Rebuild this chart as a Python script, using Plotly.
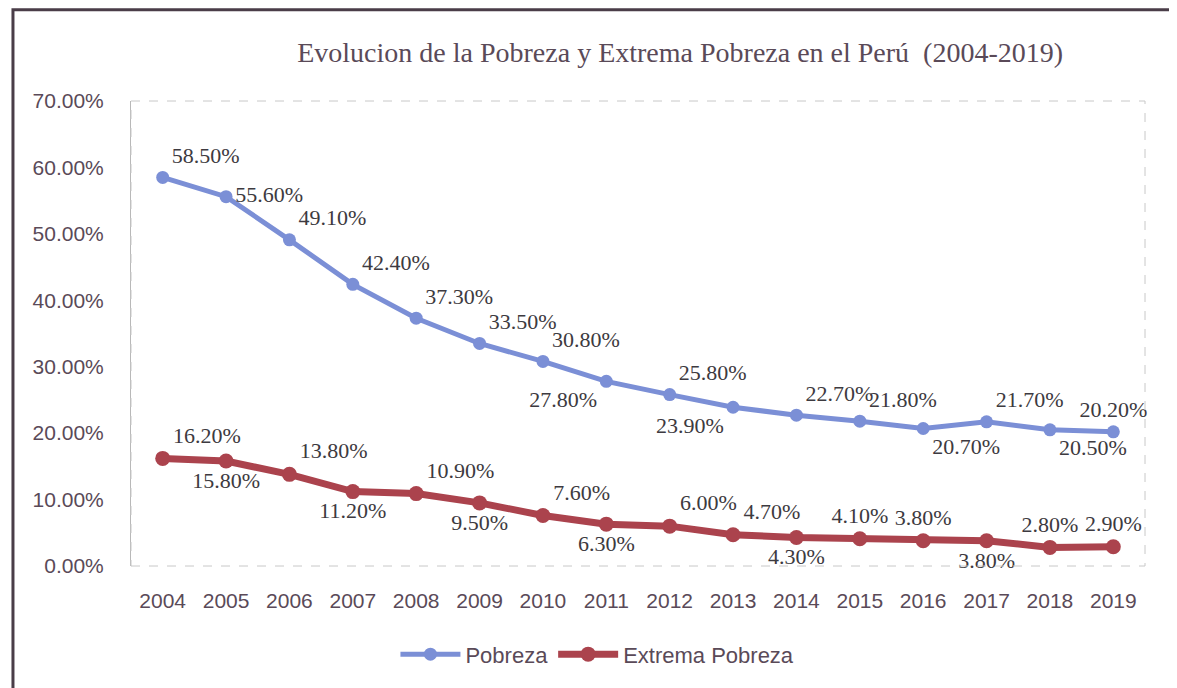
import plotly.graph_objects as go

years = [str(y) for y in range(2004, 2020)]
pobreza = [58.5, 55.6, 49.1, 42.4, 37.3, 33.5, 30.8, 27.8, 25.8, 23.9,
           22.7, 21.8, 20.7, 21.7, 20.5, 20.2]
extrema = [16.2, 15.8, 13.8, 11.2, 10.9, 9.5, 7.6, 6.3, 6.0, 4.7,
           4.3, 4.1, 3.8, 3.8, 2.8, 2.9]

pos_pobreza = ["top right", "middle right", "top right", "top right", "top right",
               "top right", "top right", "bottom left", "top right", "bottom left",
               "top right", "top right", "bottom right", "top right", "bottom right",
               "top center"]
pos_extrema = ["top right", "bottom center", "top right", "bottom center", "top right",
               "bottom center", "top right", "bottom center", "top right", "top right",
               "bottom center", "top center", "top center", "bottom center", "top center",
               "top center"]

blue = "#7b8fd6"
red = "#ab434d"
txt = "#5a4a58"
lbl = dict(family="Liberation Serif", size=22, color="#3d3a40")

fig = go.Figure()
fig.add_trace(go.Scatter(
    x=years, y=[v / 100 for v in pobreza],
    mode="lines+markers+text",
    name="Pobreza",
    line=dict(color=blue, width=5),
    marker=dict(color=blue, size=13),
    text=[f"{v:.2f}%" for v in pobreza],
    textposition=pos_pobreza,
    textfont=lbl,
    cliponaxis=False,
))
fig.add_trace(go.Scatter(
    x=years, y=[v / 100 for v in extrema],
    mode="lines+markers+text",
    name="Extrema Pobreza",
    line=dict(color=red, width=7),
    marker=dict(color=red, size=15),
    text=[f"{v:.2f}%" for v in extrema],
    textposition=pos_extrema,
    textfont=lbl,
    cliponaxis=False,
))

fig.update_layout(
    width=1169, height=680,
    margin=dict(l=123, r=32, t=93, b=122),
    paper_bgcolor="white", plot_bgcolor="white",
    font=dict(family="Liberation Sans", size=21, color=txt),
    title=dict(text="Evolucion de la Pobreza y Extrema Pobreza en el Perú  (2004-2019)",
               font=dict(family="Liberation Serif", size=28, color=txt),
               x=0.575, xanchor="center", y=0.935, yanchor="middle"),
    xaxis=dict(type="category", range=[-0.5, 15.5], showgrid=False,
               showline=False, ticks="", ticklabelstandoff=20),
    yaxis=dict(range=[0, 0.7], tickvals=[0, 0.1, 0.2, 0.3, 0.4, 0.5, 0.6, 0.7],
               tickformat=".2%", showgrid=False, zeroline=False,
               showline=True, linecolor="#b8b8b8", linewidth=1,
               ticks="", ticklabelstandoff=22),
    legend=dict(orientation="h", x=0.46, xanchor="center", y=-0.19, yanchor="middle",
                font=dict(size=22, color=txt), itemwidth=60),
    showlegend=True,
)

# dashed plot-area outline and outer frame
fig.add_shape(type="rect", xref="paper", yref="paper", x0=0, x1=1, y0=0, y1=1,
              line=dict(color="#c8c8c8", width=1, dash="dash"))
fig.add_shape(type="rect", xref="paper", yref="paper", x0=-0.1164, x1=1.0266, y0=-0.4, y1=1.196,
              line=dict(color="#4a3d48", width=3))

fig.write_html("out.html")
